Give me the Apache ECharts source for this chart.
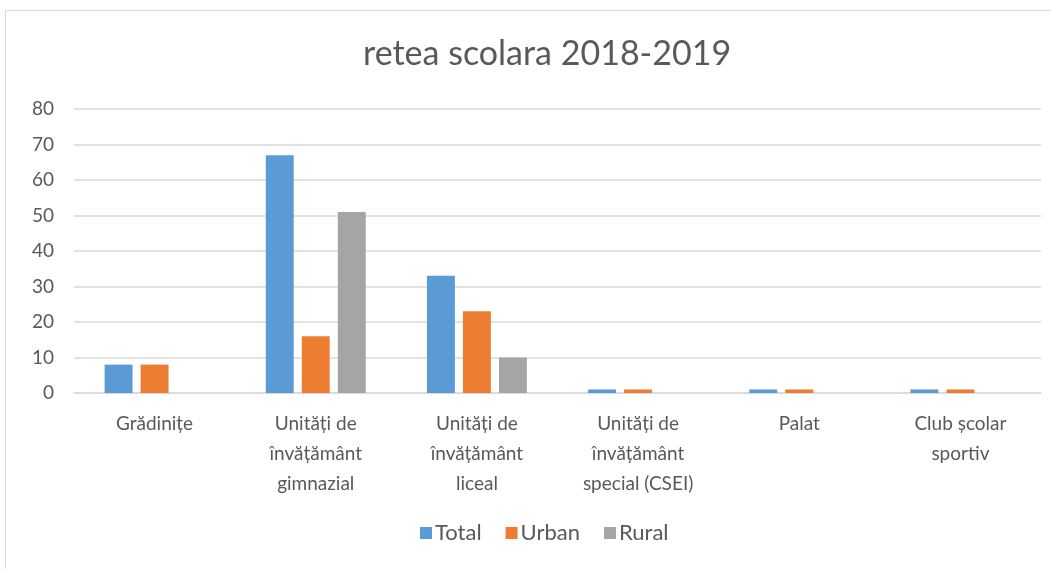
<!DOCTYPE html>
<html>
<head>
<meta charset="utf-8">
<script src="https://cdn.jsdelivr.net/npm/echarts@6/dist/echarts.min.js"></script>
<style>
  html, body { margin: 0; padding: 0; background: #fff; }
  #frame { position: absolute; left: 5px; top: 10px; width: 1060px; height: 570px; border: 1px solid #d9d9d9; box-sizing: border-box; }
  #main { position: absolute; left: 0; top: 0; width: 1051px; height: 569px; }
</style>
</head>
<body>
<div id="frame"></div>
<div id="main"></div>
<script>
// categorii si valori
var categories = [
  'Grădinițe',
  'Unități de\nînvățământ\ngimnazial',
  'Unități de\nînvățământ\nliceal',
  'Unități de\nînvățământ\nspecial (CSEI)',
  'Palat',
  'Club școlar\nsportiv'
];
var totalData = [8, 67, 33, 1, 1, 1];
var urbanData = [8, 16, 23, 1, 1, 1];
var ruralData = [0, 51, 10, 0, 0, 0];

var chart = echarts.init(document.getElementById('main'));

var textColor = '#595959';
var fontName = 'Lato';

var option = {
  animation: false,
  color: ['#5B9BD5', '#ED7D31', '#A5A5A5'],
  title: {
    text: 'retea scolara 2018-2019',
    left: 358,
    top: 32,
    textStyle: { fontFamily: fontName, fontSize: 34, fontWeight: 'normal', color: textColor }
  },
  legend: {
    bottom: 20,
    left: 415,
    itemWidth: 12,
    itemHeight: 12,
    itemGap: 24,
    icon: 'rect',
    textStyle: { fontFamily: fontName, fontSize: 22, color: textColor, padding: [0, 0, 0, -2] },
    data: ['Total', 'Urban', 'Rural']
  },
  grid: { left: 74, right: 10, top: 109, bottom: 176 },
  xAxis: {
    type: 'category',
    data: categories,
    axisTick: { show: false },
    axisLine: { lineStyle: { color: '#d9d9d9', width: 1.5 } },
    axisLabel: { fontFamily: fontName, fontSize: 19, color: textColor, lineHeight: 30, margin: 16, interval: 0 }
  },
  yAxis: {
    type: 'value',
    min: 0,
    max: 80,
    interval: 10,
    axisLine: { show: false },
    axisTick: { show: false },
    axisLabel: { fontFamily: fontName, fontSize: 19, color: textColor, margin: 20 },
    splitLine: { lineStyle: { color: '#d9d9d9', width: 1.5 } }
  },
  series: [
    { name: 'Total', type: 'bar', data: totalData, barGap: '29%', barCategoryGap: '38%' },
    { name: 'Urban', type: 'bar', data: urbanData },
    { name: 'Rural', type: 'bar', data: ruralData }
  ]
};

chart.setOption(option);
</script>
</body>
</html>
